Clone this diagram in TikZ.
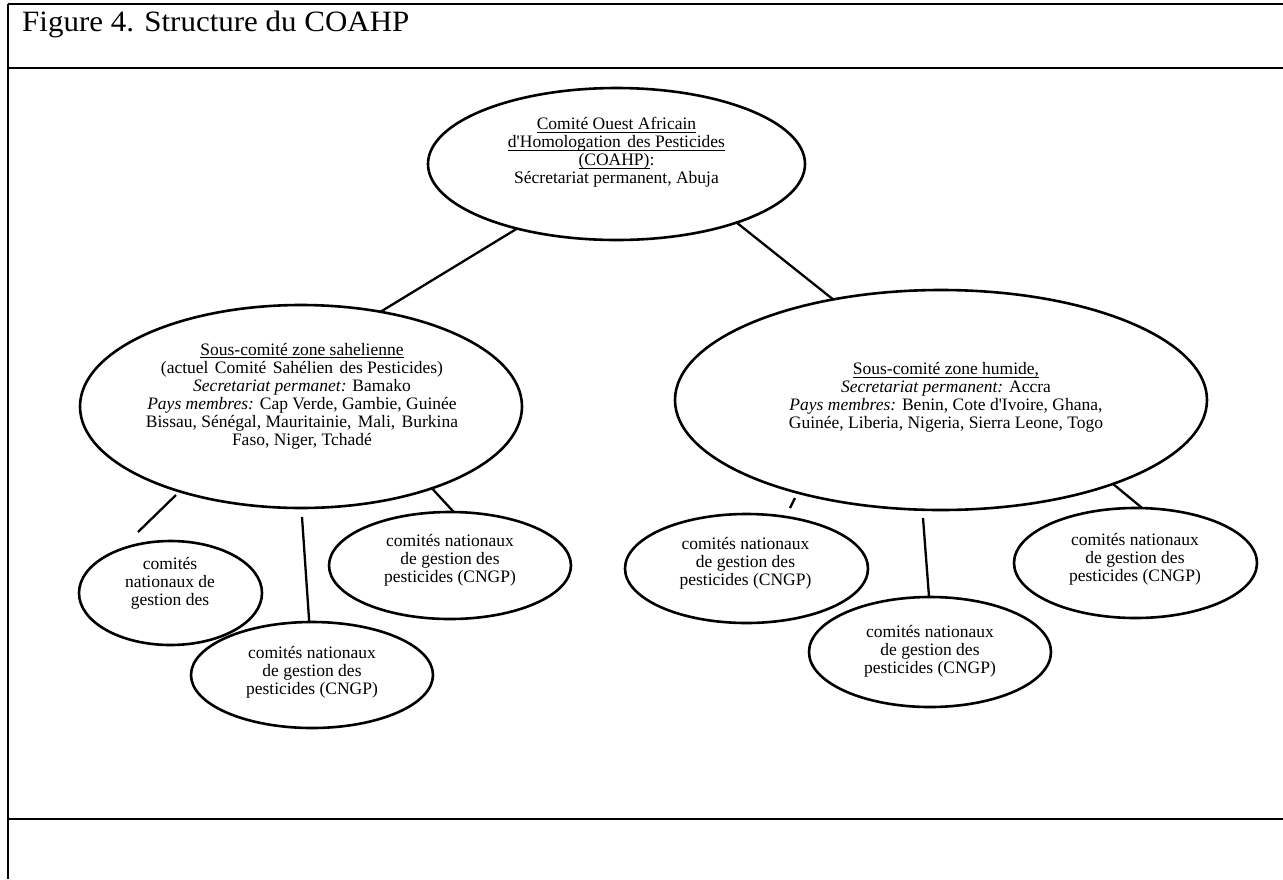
\documentclass[tikz,border=0pt]{standalone}
\usepackage{fontspec}
\setmainfont{Liberation Serif}
\newfontfamily\titlefont[FakeStretch=1.05]{Liberation Serif}
\usetikzlibrary{shapes.geometric}
\newcommand\myul[1]{\leavevmode\setbox0\hbox{#1}\rlap{\vrule height -2.2pt depth 3.2pt width \wd0}\box0}
\newcommand\wsp{\ \hspace{2pt}}
\begin{document}
\begin{tikzpicture}[x=1pt,y=-1pt,
  oval/.style={ellipse,draw,line width=2.6pt,inner sep=0pt,outer sep=0pt},
  txt/.style={align=center,inner sep=0pt,font=\fontsize{17.5}{18}\selectfont},
  link/.style={line width=2.3pt},
  framerule/.style={line width=2.8pt},
  frameside/.style={line width=2pt}]
\useasboundingbox (0,0) rectangle (1283,879);
% frame
\coordinate (tl) at (8,4);
\coordinate (tr) at (1283,4);
\coordinate (ml) at (8,68);
\coordinate (mr) at (1283,68);
\coordinate (bl) at (8,819);
\coordinate (br) at (1283,819);
\coordinate (ll) at (8,879);
\draw[framerule] (tl) -- (tr);
\draw[framerule] (ml) -- (mr);
\draw[framerule] (bl) -- (br);
\draw[frameside] (tl) -- (ll);
\node[anchor=base west,inner sep=0pt,font=\titlefont\fontsize{29.5}{32}\selectfont] (title) at (22,31) {Figure 4. Structure du COAHP};

% ellipses
\node[oval,minimum width=377pt,minimum height=152pt] (top) at (616.5,164) {};
\node[txt] (toptxt) at (616.5,152) {\myul{Comité Ouest Africain}\\\myul{d\textquotesingle Homologation\wsp des Pesticides}\\\myul{(COAHP)}:\\Sécretariat permanent, Abuja};

\node[oval,minimum width=442pt,minimum height=203pt] (sahel) at (301,406.5) {};
\node[txt] (saheltxt) at (302,396) {\myul{Sous-comité zone sahelienne}\\(actuel\wsp Comité\wsp Sahélien\wsp des Pesticides)\\\textit{Secretariat permanet:} Bamako\\\textit{Pays membres:} Cap Verde, Gambie, Guinée\\Bissau, Sénégal, Mauritainie,\wsp Mali,\wsp Burkina\\Faso, Niger, Tchadé};

\node[oval,minimum width=532pt,minimum height=220pt] (humide) at (941,400) {};
\node[txt] (humidetxt) at (946,397.5) {\myul{Sous-comité zone humide,}\\\textit{Secretariat permanent:} Accra\\\textit{Pays membres:} Benin, Cote d\textquotesingle Ivoire, Ghana,\\Guinée, Liberia, Nigeria, Sierra Leone, Togo};

\node[oval,minimum width=183pt,minimum height=104pt] (e1) at (170.5,593) {};
\node[txt] (e1txt) at (170,583) {comités\\nationaux de\\gestion des};

\node[oval,minimum width=242pt,minimum height=106pt] (e2) at (312,675) {};
\node[txt] (e2txt) at (312,672) {comités nationaux\\de gestion des\\pesticides (CNGP)};

\node[oval,minimum width=242pt,minimum height=107pt] (e3) at (450,565.5) {};
\node[txt] (e3txt) at (450,560) {comités nationaux\\de gestion des\\pesticides (CNGP)};

\node[oval,minimum width=243pt,minimum height=109pt] (e4) at (746.5,568.5) {};
\node[txt] (e4txt) at (745.5,563) {comités nationaux\\de gestion des\\pesticides (CNGP)};

\node[oval,minimum width=242pt,minimum height=110pt] (e5) at (930,652) {};
\node[txt] (e5txt) at (930,651) {comités nationaux\\de gestion des\\pesticides (CNGP)};

\node[oval,minimum width=243pt,minimum height=110pt] (e6) at (1135.5,563) {};
\node[txt] (e6txt) at (1135,559) {comités nationaux\\de gestion des\\pesticides (CNGP)};

% connectors
\draw[link] (top.213) -- (sahel.50.4);
\draw[link] (top.334) -- (humide.137.5);
\draw[link] (sahel.328.5) -- (e3.86.7);
\draw[link] (humide.334.3) -- (e6.83.3);
% free-floating lines in the original (not touching the ellipses)
\coordinate (c1) at (176,495); \coordinate (c2) at (138,532);
\coordinate (d1) at (302,517);
\coordinate (h1) at (795,498); \coordinate (h2) at (790,508);
\coordinate (k1) at (923,518);
\draw[link] (c1) -- (c2);
\draw[link] (d1) -- (e2.93);
\draw[link] (h1) -- (h2);
\draw[link] (k1) -- (e5.91);
\end{tikzpicture}
\end{document}
